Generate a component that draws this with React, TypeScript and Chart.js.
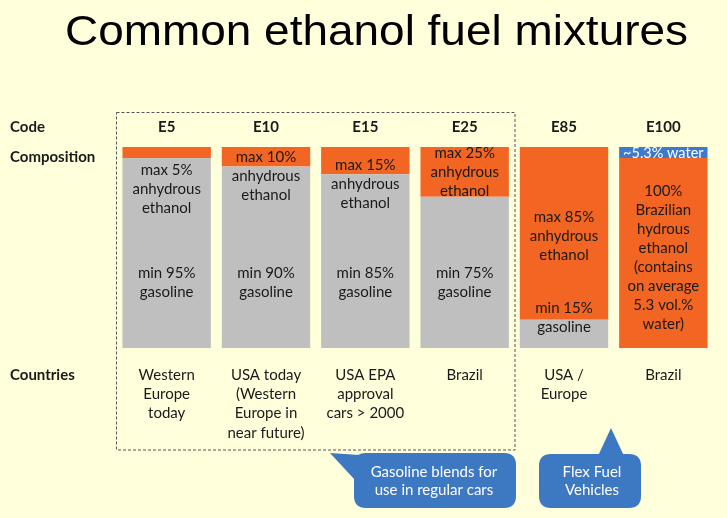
import React, { useEffect, useRef } from "react";
import { Chart, registerables } from "chart.js";

Chart.register(...registerables);

const codes = ["E5", "E10", "E15", "E25", "E85", "E100"];
const gasolineShare = [94.5, 90.3, 86.5, 75.2, 14, 0];
const ethanolShare = [5.5, 9.7, 13.5, 24.8, 86, 94.5];
const waterShare = [0, 0, 0, 0, 0, 5.5];

const ethanolLabels = [
  ["max 5%", "anhydrous", "ethanol"],
  ["max 10%", "anhydrous", "ethanol"],
  ["max 15%", "anhydrous", "ethanol"],
  ["max 25%", "anhydrous", "ethanol"],
  ["max 85%", "anhydrous", "ethanol"],
  ["100%", "Brazilian", "hydrous", "ethanol", "(contains", "on average", "5.3 vol.%", "water)"],
];
const gasolineLabels = [
  ["min 95%", "gasoline"],
  ["min 90%", "gasoline"],
  ["min 85%", "gasoline"],
  ["min 75%", "gasoline"],
  ["min 15%", "gasoline"],
  [],
];
const waterLabel = "~5.3% water";
const countries = [
  ["Western", "Europe", "today"],
  ["USA today", "(Western", "Europe in", "near future)"],
  ["USA EPA", "approval", "cars > 2000"],
  ["Brazil"],
  ["USA /", "Europe"],
  ["Brazil"],
];
const rowHeaders = ["Code", "Composition", "Countries"];
const titleText = "Common ethanol fuel mixtures";
const callout1 = ["Gasoline blends for", "use in regular cars"];
const callout2 = ["Flex Fuel", "Vehicles"];

// layout (pixel positions of annotation text)
const ethanolTextTop = [170, 157, 165, 153, 217, 191];
const gasolineTextTop = [273, 273, 273, 273, 308, 0];
const LINE = 19;

const BG = "#FFFFDC";
const ORANGE = "#F26522";
const GRAY = "#BFBFBF";
const BLUE = "#3D78C2";
const TEXT = "#1A1A1A";
const FONT = "Lato, 'Open Sans', sans-serif";

function roundRect(ctx: CanvasRenderingContext2D, x: number, y: number, w: number, h: number, r: number) {
  ctx.beginPath();
  ctx.moveTo(x + r, y);
  ctx.lineTo(x + w - r, y);
  ctx.quadraticCurveTo(x + w, y, x + w, y + r);
  ctx.lineTo(x + w, y + h - r);
  ctx.quadraticCurveTo(x + w, y + h, x + w - r, y + h);
  ctx.lineTo(x + r, y + h);
  ctx.quadraticCurveTo(x, y + h, x, y + h - r);
  ctx.lineTo(x, y + r);
  ctx.quadraticCurveTo(x, y, x + r, y);
  ctx.closePath();
}

const decorPlugin = {
  id: "decor",
  beforeDraw(chart: any) {
    const ctx = chart.ctx as CanvasRenderingContext2D;
    ctx.save();
    ctx.fillStyle = BG;
    ctx.fillRect(0, 0, chart.width, chart.height);
    ctx.restore();
  },
  afterDraw(chart: any) {
    const ctx = chart.ctx as CanvasRenderingContext2D;
    const xs = chart.scales.x;
    const ys = chart.scales.y;
    ctx.save();
    // title, stretched horizontally to the reference width
    ctx.fillStyle = "#000";
    ctx.font = "43px 'Liberation Sans', Arial, sans-serif";
    ctx.textAlign = "center";
    ctx.textBaseline = "alphabetic";
    const tw = ctx.measureText(titleText).width;
    const sx = 623 / tw;
    ctx.save();
    ctx.translate(376.5, 45);
    ctx.scale(sx, 1);
    ctx.fillText(titleText, 0, 0);
    ctx.restore();

    ctx.textBaseline = "middle";
    // row headers
    ctx.textAlign = "left";
    ctx.font = `bold 15px ${FONT}`;
    ctx.fillStyle = TEXT;
    ctx.fillText(rowHeaders[0], 10, 127);
    ctx.fillText(rowHeaders[1], 10, 157);
    ctx.fillText(rowHeaders[2], 10, 375);

    ctx.textAlign = "center";
    codes.forEach((c, i) => {
      const cx = xs.getPixelForValue(i);
      ctx.font = `bold 15px ${FONT}`;
      ctx.fillStyle = TEXT;
      ctx.fillText(c, cx, 127);
      ctx.font = `15px ${FONT}`;
      ethanolLabels[i].forEach((t, k) => ctx.fillText(t, cx, ethanolTextTop[i] + k * LINE));
      gasolineLabels[i].forEach((t, k) => ctx.fillText(t, cx, gasolineTextTop[i] + k * LINE));
      countries[i].forEach((t, k) => ctx.fillText(t, cx, 375 + k * 19.3));
      if (waterShare[i] > 0) {
        ctx.fillStyle = "#FFFFFF";
        ctx.font = `14.5px ${FONT}`;
        const yTop = ys.getPixelForValue(100);
        const yBot = ys.getPixelForValue(100 - waterShare[i]);
        ctx.fillText(waterLabel, cx, (yTop + yBot) / 2 + 0.5);
      }
    });

    // dashed box
    ctx.strokeStyle = "#555";
    ctx.lineWidth = 1;
    ctx.setLineDash([3, 2]);
    ctx.strokeRect(116.5, 112.5, 398.5, 337.5);
    ctx.setLineDash([]);

    // callout 1
    ctx.fillStyle = BLUE;
    roundRect(ctx, 354, 453, 162, 55, 12);
    ctx.fill();
    ctx.beginPath();
    ctx.moveTo(330, 453);
    ctx.lineTo(374, 456);
    ctx.lineTo(355, 480);
    ctx.closePath();
    ctx.fill();
    // callout 2
    roundRect(ctx, 539, 454, 102, 54, 12);
    ctx.fill();
    ctx.beginPath();
    ctx.moveTo(611, 428);
    ctx.lineTo(624, 456);
    ctx.lineTo(598, 456);
    ctx.closePath();
    ctx.fill();

    ctx.fillStyle = "#FFFFFF";
    ctx.font = `15px ${FONT}`;
    callout1.forEach((t, k) => ctx.fillText(t, 434, 472 + k * 18.5));
    callout2.forEach((t, k) => ctx.fillText(t, 592, 472 + k * 18.5));
    ctx.restore();
  },
};

export default function App() {
  const ref = useRef<HTMLCanvasElement | null>(null);
  useEffect(() => {
    document.body.style.margin = "0";
    document.body.style.background = BG;
    const canvas = ref.current!;
    const chart = new Chart(canvas, {
      type: "bar",
      data: {
        labels: codes,
        datasets: [
          { label: "Gasoline", data: gasolineShare, backgroundColor: GRAY, borderWidth: 0 },
          { label: "Ethanol", data: ethanolShare, backgroundColor: ORANGE, borderWidth: 0 },
          { label: "Water", data: waterShare, backgroundColor: "#3E7ACB", borderWidth: 0 },
        ],
      },
      options: {
        responsive: false,
        animation: false,
        devicePixelRatio: 1,
        layout: { padding: { left: 117, right: 14, top: 147, bottom: 170 } },
        datasets: { bar: { categoryPercentage: 1, barPercentage: 0.89 } },
        scales: {
          x: { stacked: true, display: false },
          y: { stacked: true, display: false, min: 0, max: 100 },
        },
        plugins: { legend: { display: false }, tooltip: { enabled: false }, title: { display: false } },
      },
      plugins: [decorPlugin],
    });
    return () => chart.destroy();
  }, []);
  return (
    <div style={{ width: 727, height: 518 }}>
      <canvas ref={ref} width={727} height={518} style={{ display: "block" }} />
    </div>
  );
}
